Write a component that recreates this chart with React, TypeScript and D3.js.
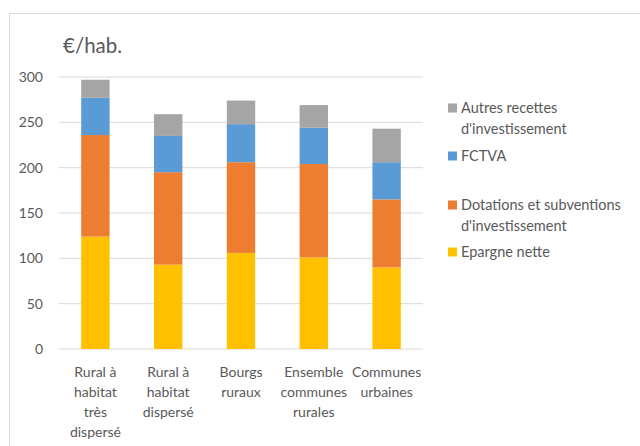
import React from "react";
import * as d3 from "d3";

const categories = [
  ["Rural à", "habitat", "très", "dispersé"],
  ["Rural à", "habitat", "dispersé"],
  ["Bourgs", "ruraux"],
  ["Ensemble", "communes", "rurales"],
  ["Communes", "urbaines"],
];
const epargne = [124, 93, 106, 101, 90];
const dotations = [112, 102, 100, 103, 75];
const fctva = [41, 40, 42, 40, 41];
const autres = [20, 24, 26, 25, 37];
const seriesNames = ["Epargne nette", "Dotations et subventions d'investissement", "FCTVA", "Autres recettes d'investissement"];
const yTicks = [0, 50, 100, 150, 200, 250, 300];

const colors = ["#FFC000", "#ED7D31", "#5B9BD5", "#A5A5A5"];
const legendLines = [
  ["Autres recettes", "d'investissement"],
  ["FCTVA"],
  ["Dotations et subventions", "d'investissement"],
  ["Epargne nette"],
];
const legendColors = [colors[3], colors[2], colors[1], colors[0]];
const legendY = [108, 156, 205, 252];

export default function App() {
  const W = 640, H = 446;
  const left = 59, right = 423, top = 77, bottom = 349;
  const font = "Lato, 'Open Sans', sans-serif";
  const txt = "#595959";
  const keys = ["epargne", "dotations", "fctva", "autres"];
  const rows = categories.map((c, i) => ({
    i,
    epargne: epargne[i],
    dotations: dotations[i],
    fctva: fctva[i],
    autres: autres[i],
  }));
  const stack = d3.stack<any>().keys(keys)(rows);
  const x = d3.scaleBand<number>().domain(categories.map((_, i) => i)).range([left, right]).paddingInner(0.61).paddingOuter(0.305);
  const y = d3.scaleLinear().domain([0, 300]).range([bottom, top]);

  return (
    <svg width={W} height={H} style={{ position: "absolute", left: 0, top: 0, background: "#fff" }} fontFamily={font}>
      <rect x={9.5} y={13.5} width={W} height={H} fill="#fff" stroke="#D9D9D9" strokeWidth={1} />
      <text x={63} y={53} fontSize={20.5} fill={txt}>€/hab.</text>
      {yTicks.map((t) => (
        <g key={t}>
          <line x1={left} x2={right} y1={y(t)} y2={y(t)} stroke="#D9D9D9" strokeWidth={1} />
          <text x={43} y={y(t)} dy="0.35em" textAnchor="end" fontSize={14} fill={txt}>{t}</text>
        </g>
      ))}
      {stack.map((s, si) => (
        <g key={si} fill={colors[si]}>
          {s.map((d, i) => (
            <rect key={i} x={x(i)} width={x.bandwidth()} y={y(d[1])} height={y(d[0]) - y(d[1])} />
          ))}
        </g>
      ))}
      {categories.map((lines, i) => (
        <text key={i} textAnchor="middle" fontSize={14} fill={txt}>
          {lines.map((l, li) => (
            <tspan key={li} x={x(i)! + x.bandwidth() / 2} y={372 + li * 20} dy="0.35em">{l}</tspan>
          ))}
        </text>
      ))}
      {legendLines.map((lines, i) => (
        <g key={i}>
          <rect x={448} y={legendY[i] - 4.5} width={9} height={9} fill={legendColors[i]} />
          {lines.map((l, li) => (
            <text key={li} x={461} y={legendY[i] + li * 21} dy="0.35em" fontSize={14.5} fill={txt}>{l}</text>
          ))}
        </g>
      ))}
    </svg>
  );
}
